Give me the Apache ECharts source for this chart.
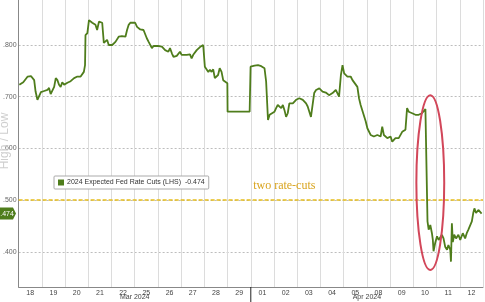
<!DOCTYPE html>
<html>
<head>
<meta charset="utf-8">
<script src="https://cdn.jsdelivr.net/npm/echarts@6/dist/echarts.min.js"></script>
<style>html,body{margin:0;padding:0;background:#fff}#c{width:485px;height:302px}</style>
</head>
<body>
<div id="c"></div>
<script>
const dayLabels = ['18','19','20','21','22','25','26','27','28','29','01','02','03','04','05','08','09','10','11','12'];
const monthLabels = [{text:'Mar 2024', day:5},{text:'Apr 2024', day:15}];
const yTicks = [-0.8,-0.7,-0.6,-0.5,-0.4];
const seriesName = '2024 Expected Fed Rate Cuts (LHS)';
const thresholdValue = -0.5;
const thresholdLabel = 'two rate-cuts';
// [trading-day position, expected cuts]
const cuts = [
[0.03,-0.723],[0.20,-0.728],[0.39,-0.739],[0.53,-0.740],[0.67,-0.732],[0.73,-0.710],[0.81,-0.694],[0.89,-0.694],[0.96,-0.709],[1.10,-0.711],[1.24,-0.713],[1.31,-0.717],[1.38,-0.705],[1.46,-0.703],[1.53,-0.719],[1.60,-0.736],[1.67,-0.732],[1.74,-0.723],[1.81,-0.719],[1.88,-0.728],[1.96,-0.723],[2.10,-0.727],[2.24,-0.730],[2.39,-0.736],[2.53,-0.739],[2.60,-0.736],[2.67,-0.739],[2.74,-0.742],[2.81,-0.748],[2.86,-0.761],[2.88,-0.819],[2.96,-0.823],[3.03,-0.848],[3.10,-0.845],[3.17,-0.843],[3.24,-0.845],[3.31,-0.839],[3.38,-0.829],[3.46,-0.845],[3.52,-0.848],[3.60,-0.843],[3.63,-0.826],[3.67,-0.804],[3.74,-0.806],[3.81,-0.810],[3.88,-0.800],[3.95,-0.797],[4.03,-0.800],[4.17,-0.806],[4.31,-0.816],[4.45,-0.817],[4.60,-0.816],[4.67,-0.829],[4.74,-0.839],[4.81,-0.843],[4.88,-0.842],[5.02,-0.843],[5.10,-0.835],[5.24,-0.830],[5.38,-0.829],[5.52,-0.813],[5.60,-0.806],[5.74,-0.794],[5.81,-0.798],[5.88,-0.797],[6.03,-0.798],[6.17,-0.797],[6.31,-0.790],[6.45,-0.787],[6.52,-0.794],[6.60,-0.784],[6.67,-0.777],[6.81,-0.779],[6.95,-0.787],[7.02,-0.781],[7.24,-0.781],[7.38,-0.782],[7.45,-0.774],[7.52,-0.781],[7.67,-0.790],[7.81,-0.796],[7.95,-0.800],[8.02,-0.758],[8.09,-0.755],[8.17,-0.748],[8.24,-0.752],[8.31,-0.748],[8.38,-0.753],[8.45,-0.736],[8.59,-0.742],[8.66,-0.755],[8.74,-0.748],[8.81,-0.732],[8.88,-0.729],[8.99,-0.726],[9.00,-0.671],[9.95,-0.671],[9.99,-0.758],
[10.16,-0.760],[10.31,-0.761],[10.45,-0.759],[10.59,-0.755],[10.66,-0.729],[10.74,-0.655],[10.81,-0.665],[10.88,-0.668],[11.02,-0.671],[11.09,-0.678],[11.16,-0.684],[11.23,-0.681],[11.31,-0.678],[11.38,-0.684],[11.45,-0.674],[11.52,-0.661],[11.59,-0.668],[11.66,-0.687],[11.73,-0.690],[11.81,-0.687],[11.95,-0.694],[12.09,-0.697],[12.24,-0.694],[12.38,-0.687],[12.45,-0.681],[12.52,-0.671],[12.59,-0.661],[12.66,-0.661],[12.73,-0.707],[12.81,-0.713],[12.95,-0.716],[13.09,-0.710],[13.23,-0.708],[13.37,-0.703],[13.52,-0.707],[13.66,-0.713],[13.80,-0.700],[13.88,-0.742],[13.95,-0.761],[14.02,-0.745],[14.16,-0.739],[14.30,-0.739],[14.38,-0.732],[14.45,-0.732],[14.59,-0.719],[14.66,-0.697],[14.73,-0.684],[14.80,-0.674],[14.95,-0.652],[15.02,-0.639],[15.16,-0.626],[15.30,-0.623],[15.45,-0.626],[15.59,-0.623],[15.66,-0.642],[15.73,-0.626],[15.88,-0.620],[16.02,-0.623],[16.09,-0.613],[16.23,-0.620],[16.37,-0.620],[16.52,-0.632],[16.66,-0.636],[16.73,-0.678],[16.80,-0.671],[16.95,-0.668],[17.09,-0.665],[17.23,-0.665],[17.37,-0.668],[17.44,-0.665],[17.52,-0.676],[17.59,-0.678],
[17.61,-0.459],[17.66,-0.443],[17.73,-0.452],[17.80,-0.436],[17.84,-0.423],[17.87,-0.401],[17.94,-0.417],[18.02,-0.430],[18.09,-0.423],[18.16,-0.426],[18.23,-0.433],[18.30,-0.426],[18.37,-0.410],[18.45,-0.404],[18.51,-0.413],[18.59,-0.404],[18.62,-0.381],[18.66,-0.455],[18.70,-0.419],[18.76,-0.433],[18.84,-0.426],[18.94,-0.433],[19.02,-0.423],[19.13,-0.436],[19.23,-0.426],[19.30,-0.436],[19.37,-0.443],[19.44,-0.446],[19.52,-0.459],[19.58,-0.475],[19.63,-0.484],[19.70,-0.475],[19.80,-0.481],[19.87,-0.484],[19.94,-0.474]
];
// highlighted region (day range, value range) for the red ellipse
const highlight = {dayFrom:17.13, dayTo:18.33, valFrom:-0.703, valTo:-0.365};

const GREEN = '#4f7d1c';
const chart = echarts.init(document.getElementById('c'), null, {renderer:'canvas'});
const lastVal = cuts[cuts.length-1][1];
const fmtY = v => '.' + Math.abs(v).toFixed(3).split('.')[1];

chart.setOption({
  animation:false,
  backgroundColor:'#fff',
  grid:{left:16, right:2, top:0, bottom:15},
  xAxis:{
    type:'value', min:0, max:dayLabels.length, interval:1,
    axisLine:{show:true, lineStyle:{color:'#888', width:1}},
    axisTick:{show:false},
    splitLine:{show:true, lineStyle:{color:'#dcdcdc', width:1}},
    axisLabel:{
      customValues: dayLabels.map((_,i)=>i+0.5),
      formatter: v => dayLabels[Math.floor(v)],
      fontSize:7, color:'#444', margin:3, fontFamily:'Liberation Sans'
    }
  },
  yAxis:{
    type:'value', inverse:true, min:-0.887, max:-0.332,
    axisLine:{show:true, lineStyle:{color:'#888', width:1}},
    axisTick:{show:false, customValues:yTicks},
    splitLine:{show:true, lineStyle:{color:'#bdbdbd', type:[2,2], width:1}},
    axisLabel:{customValues:yTicks, formatter:fmtY, fontSize:7, color:'#666', margin:2, fontFamily:'Liberation Sans'}
  },
  legend:{
    data:[seriesName], left:54, top:176, icon:'rect', itemWidth:6, itemHeight:6,
    padding:[3,4], borderColor:'#aaa', borderWidth:1, backgroundColor:'#fff', borderRadius:1,
    formatter: n => n + '  ' + lastVal.toFixed(3),
    textStyle:{fontSize:7, color:'#333', fontFamily:'Liberation Sans', padding:[0,0,0,-2]},
    selectedMode:false
  },
  series:[{
    name:seriesName, type:'line', data:cuts, showSymbol:false, symbol:'none',
    itemStyle:{color:GREEN},
    lineStyle:{color:GREEN, width:1.8},
    z:5,
    markLine:{
      silent:true, symbol:'none', animation:false,
      label:{show:false},
      lineStyle:{color:'#e6bd1c', type:[4,2], width:1.5},
      data:[{yAxis:thresholdValue}]
    }
  }]
});

const px = (d,v) => chart.convertToPixel({gridIndex:0}, [d,v]);
const p1 = px(highlight.dayFrom, highlight.valFrom);
const p2 = px(highlight.dayTo, highlight.valTo);
const tag = px(dayLabels.length, lastVal);
const thr = px(10.1, thresholdValue);
const sep = px(10, -0.4);
const axisY = px(0, -0.332)[1];

const graphics = [
  {type:'ellipse', z:20, shape:{cx:(p1[0]+p2[0])/2, cy:(p1[1]+p2[1])/2, rx:Math.abs(p2[0]-p1[0])/2, ry:Math.abs(p2[1]-p1[1])/2},
   style:{fill:null, stroke:'#d2475a', lineWidth:2}},
  {type:'text', z:20, x:thr[0], y:thr[1]-14, style:{text:thresholdLabel, fill:'#d9a41e', font:'12px "Liberation Serif"', textAlign:'left', textVerticalAlign:'middle'}},
  {type:'line', z:20, shape:{x1:sep[0], y1:axisY, x2:sep[0], y2:302}, style:{stroke:'#222', lineWidth:1}},
  {type:'polygon', z:20, shape:{points:[[0,tag[1]-6],[13,tag[1]-6],[16,tag[1]],[13,tag[1]+6],[0,tag[1]+6]]}, style:{fill:GREEN}},
  {type:'text', z:21, x:7, y:tag[1], style:{text:fmtY(lastVal), fill:'#fff', font:'7px "Liberation Sans"', textAlign:'center', textVerticalAlign:'middle'}},
  {type:'text', z:1, x:5, y:141, rotation:Math.PI/2, style:{text:'High / Low', fill:'#cfcfcf', font:'12px "Liberation Sans"', textAlign:'center', textVerticalAlign:'middle'}}
];
monthLabels.forEach(m => {
  const p = px(m.day, -0.4);
  graphics.push({type:'text', z:20, x:p[0], y:297, style:{text:m.text, fill:'#444', font:'7px "Liberation Sans"', textAlign:'center', textVerticalAlign:'middle'}});
});
chart.setOption({graphic:graphics});
</script>
</body>
</html>
